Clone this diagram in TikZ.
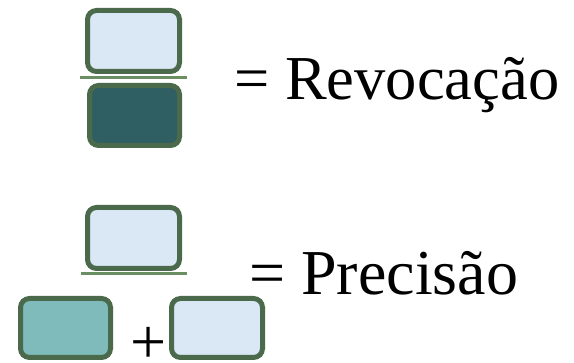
\documentclass[tikz,border=0pt]{standalone}
\usepackage{fontspec}
\setmainfont{Liberation Serif}
\definecolor{bordergreen}{HTML}{4B6A4B}
\definecolor{bargreen}{HTML}{6A8F63}
\definecolor{paleblue}{HTML}{DAE7F5}
\definecolor{darkteal}{HTML}{2F5F62}
\definecolor{lightteal}{HTML}{7FBBBB}
\tikzset{
  box/.style={draw=bordergreen, line width=5pt, rounded corners=9pt, inner sep=0pt},
  bar/.style={draw=bargreen, line width=3pt},
  label/.style={inner sep=0pt, anchor=base west}
}
\begin{document}
\begin{tikzpicture}[x=1pt,y=-1pt]
\useasboundingbox (0,0) rectangle (574,363);
% Revocacao
\node[box, fill=paleblue, minimum width=92pt, minimum height=61pt] (r1) at (133.5,41) {};
\node[box, fill=darkteal, minimum width=90pt, minimum height=60pt] (r2) at (134.5,115.5) {};
\coordinate (b1l) at (80,77.5);
\coordinate (b1r) at (187,77.5);
\draw[bar] (b1l) -- (b1r);
\node[label, font=\fontsize{62.5}{62.5}\selectfont] (rev) at (234,100) {= Revocação};
% Precisao
\node[box, fill=paleblue, minimum width=92pt, minimum height=61pt] (p1) at (133.5,238) {};
\coordinate (b2l) at (81,273.5);
\coordinate (b2r) at (187,273.5);
\draw[bar] (b2l) -- (b2r);
\node[box, fill=lightteal, minimum width=90pt, minimum height=59pt] (p2) at (65.5,328) {};
\node[box, fill=paleblue, minimum width=91pt, minimum height=59pt] (p3) at (217,328) {};
\node[label, font=\fontsize{64}{64}\selectfont] (plus) at (130,364) {+};
\node[label, font=\fontsize{64}{64}\selectfont] (prec) at (249,295) {= Precisão};
\end{tikzpicture}
\end{document}
